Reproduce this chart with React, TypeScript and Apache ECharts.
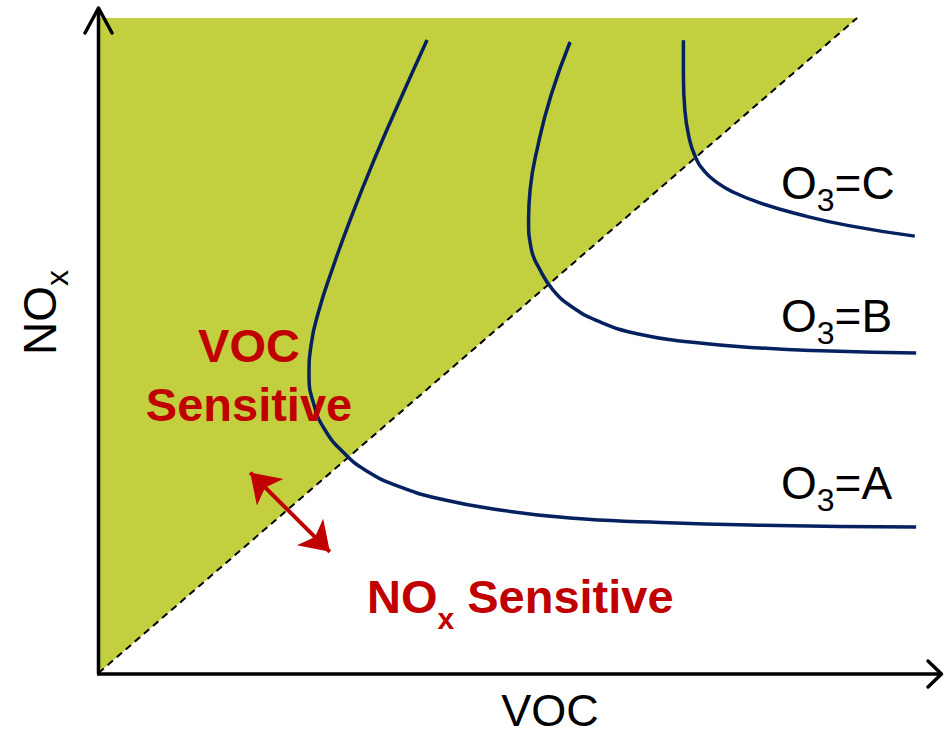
import React, { useEffect, useRef } from "react";
import * as echarts from "echarts";

// ---- data (VOC on x, NOx on y; arbitrary units) ----
const regionX = [0, 0, 100];
const regionY = [0, 100, 100];

const ridgeX = [0, 100];
const ridgeY = [0, 100];

const curveAX = [43.31, 39.75, 36.32, 33.16, 30.78, 29.07, 28.02, 27.75, 28.41, 29.86, 32.23, 35.13, 39.75, 45.68, 52.93, 62.16, 72.71, 85.89, 107.78];
const curveAY = [96.64, 87.48, 78.32, 69.16, 61.53, 55.42, 50.08, 45.5, 40.92, 37.1, 33.74, 31.0, 28.4, 26.41, 24.89, 23.66, 23.05, 22.6, 22.29];

const curveBX = [62.16, 59.66, 57.94, 56.89, 56.69, 57.02, 58.21, 59.92, 62.43, 66.12, 71.13, 77.98, 87.21, 96.44, 107.78];
const curveBY = [96.34, 88.24, 80.61, 73.74, 69.16, 64.89, 61.53, 58.47, 55.88, 53.59, 51.76, 50.53, 49.62, 49.16, 48.85];

const curveCX = [77.1, 77.1, 77.3, 77.8, 78.6, 79.8, 81.5, 83.7, 87.1, 92.4, 98.9, 107.6];
const curveCY = [96.6, 91.2, 85.8, 82.0, 79.0, 76.7, 74.9, 73.4, 71.8, 70.0, 68.3, 66.7];

const arrowX = [20.0, 30.5];
const arrowY = [30.6, 18.5];

const curveNames = ["O3=A", "O3=B", "O3=C"];
const xName = "VOC";

const FONT = "'Liberation Sans', Arial, Helvetica, sans-serif";
const GREEN = "#c2cf3e";
const NAVY = "#06215f";
const RED = "#c00000";

const pairs = (xs: number[], ys: number[]) => xs.map((x, i) => [x, ys[i]]);

function o3Label(letter: string, x: number, y: number) {
  return {
    type: "text",
    x,
    y,
    z: 20,
    style: {
      text: `{m|O}{s|3}{m|=${letter}}`,
      align: "left",
      verticalAlign: "top",
      rich: {
        m: { fontSize: 46, lineHeight: 46, verticalAlign: "top", fontFamily: FONT, fill: "#000" },
        s: { fontSize: 32, lineHeight: 32, padding: [24, 0, 0, 0], verticalAlign: "top", fontFamily: FONT, fill: "#000" },
      },
    },
  };
}

export default function App() {
  const ref = useRef<HTMLDivElement>(null);
  useEffect(() => {
    const chart = echarts.init(ref.current!, null, { renderer: "svg", width: 944, height: 734 });
    const curveStyle = { color: NAVY, width: 3.5 };
    chart.setOption({
      animation: false,
      backgroundColor: "#ffffff",
      grid: { left: 98.5, top: 18, right: 11, bottom: 61 },
      xAxis: { type: "value", min: 0, max: 110, show: false },
      yAxis: { type: "value", min: 0, max: 100, show: false },
      series: [
        {
          type: "custom",
          data: [0],
          z: 1,
          renderItem: (_p: any, api: any) => ({
            type: "polygon",
            shape: { points: regionX.map((x, i) => api.coord([x, regionY[i]])) },
            style: { fill: GREEN },
          }),
        },
        {
          type: "line",
          data: pairs(ridgeX, ridgeY),
          symbol: "none",
          z: 2,
          lineStyle: { color: "#000", width: 2, type: [7, 5] },
        },
        {
          name: curveNames[0],
          type: "line",
          data: pairs(curveAX, curveAY),
          symbol: "none",
          smooth: 0.5,
          z: 3,
          lineStyle: curveStyle,
        },
        {
          name: curveNames[1],
          type: "line",
          data: pairs(curveBX, curveBY),
          symbol: "none",
          smooth: 0.5,
          z: 3,
          lineStyle: curveStyle,
        },
        {
          name: curveNames[2],
          type: "line",
          data: pairs(curveCX, curveCY),
          symbol: "none",
          smooth: 0.5,
          z: 3,
          lineStyle: curveStyle,
        },
        {
          type: "lines",
          coordinateSystem: "cartesian2d",
          z: 4,
          symbol: ["arrow", "arrow"],
          symbolSize: 28,
          lineStyle: { color: RED, width: 4, opacity: 1 },
          data: [{ coords: pairs(arrowX, arrowY) }],
        },
      ],
      graphic: [
        // axes with open arrowheads
        { type: "line", z: 20, shape: { x1: 98.5, y1: 674, x2: 98.5, y2: 9 }, style: { stroke: "#000", lineWidth: 3.5 } },
        { type: "polyline", z: 20, shape: { points: [[85, 33], [98.5, 8], [112, 33]] }, style: { stroke: "#000", lineWidth: 3.5, lineCap: "round", lineJoin: "round", fill: null } },
        { type: "line", z: 20, shape: { x1: 97, y1: 674, x2: 940, y2: 674 }, style: { stroke: "#000", lineWidth: 3.5 } },
        { type: "polyline", z: 20, shape: { points: [[928, 661], [941.5, 674], [928, 687]] }, style: { stroke: "#000", lineWidth: 3.5, lineCap: "round", lineJoin: "round", fill: null } },
        // axis names
        {
          type: "text",
          x: 550,
          y: 710,
          z: 20,
          style: { text: xName, fontSize: 45, fontFamily: FONT, fill: "#000", align: "center", verticalAlign: "middle" },
        },
        {
          type: "text",
          x: 17,
          y: 355,
          z: 20,
          rotation: Math.PI / 2,
          style: {
            text: "{m|NO}{s|x}",
            align: "left",
            verticalAlign: "top",
            rich: {
              m: { fontSize: 46, lineHeight: 46, verticalAlign: "top", fontFamily: FONT, fill: "#000" },
              s: { fontSize: 32, lineHeight: 32, padding: [24, 0, 0, 0], verticalAlign: "top", fontFamily: FONT, fill: "#000" },
            },
          },
        },
        // curve labels
        o3Label("C", 781, 160),
        o3Label("B", 781, 293),
        o3Label("A", 781, 460),
        // regime labels
        {
          type: "text",
          x: 249,
          y: 345,
          z: 20,
          style: { text: "VOC", fontSize: 47, fontWeight: "bold", fontFamily: FONT, fill: RED, align: "center", verticalAlign: "middle" },
        },
        {
          type: "text",
          x: 249,
          y: 404,
          z: 20,
          style: { text: "Sensitive", fontSize: 47, fontWeight: "bold", fontFamily: FONT, fill: RED, align: "center", verticalAlign: "middle" },
        },
        {
          type: "text",
          x: 367,
          y: 573,
          z: 20,
          style: {
            text: "{m|NO}{s|x}{m| Sensitive}",
            align: "left",
            verticalAlign: "top",
            rich: {
              m: { fontSize: 47, lineHeight: 46, verticalAlign: "top", fontWeight: "bold", fontFamily: FONT, fill: RED },
              s: { fontSize: 30, lineHeight: 30, padding: [30, 0, 0, 0], verticalAlign: "top", fontWeight: "bold", fontFamily: FONT, fill: RED },
            },
          },
        },
      ],
    });
    return () => chart.dispose();
  }, []);
  return (
    <div
      ref={ref}
      style={{ position: "fixed", left: 0, top: 0, width: 944, height: 734, background: "#fff" }}
    />
  );
}
